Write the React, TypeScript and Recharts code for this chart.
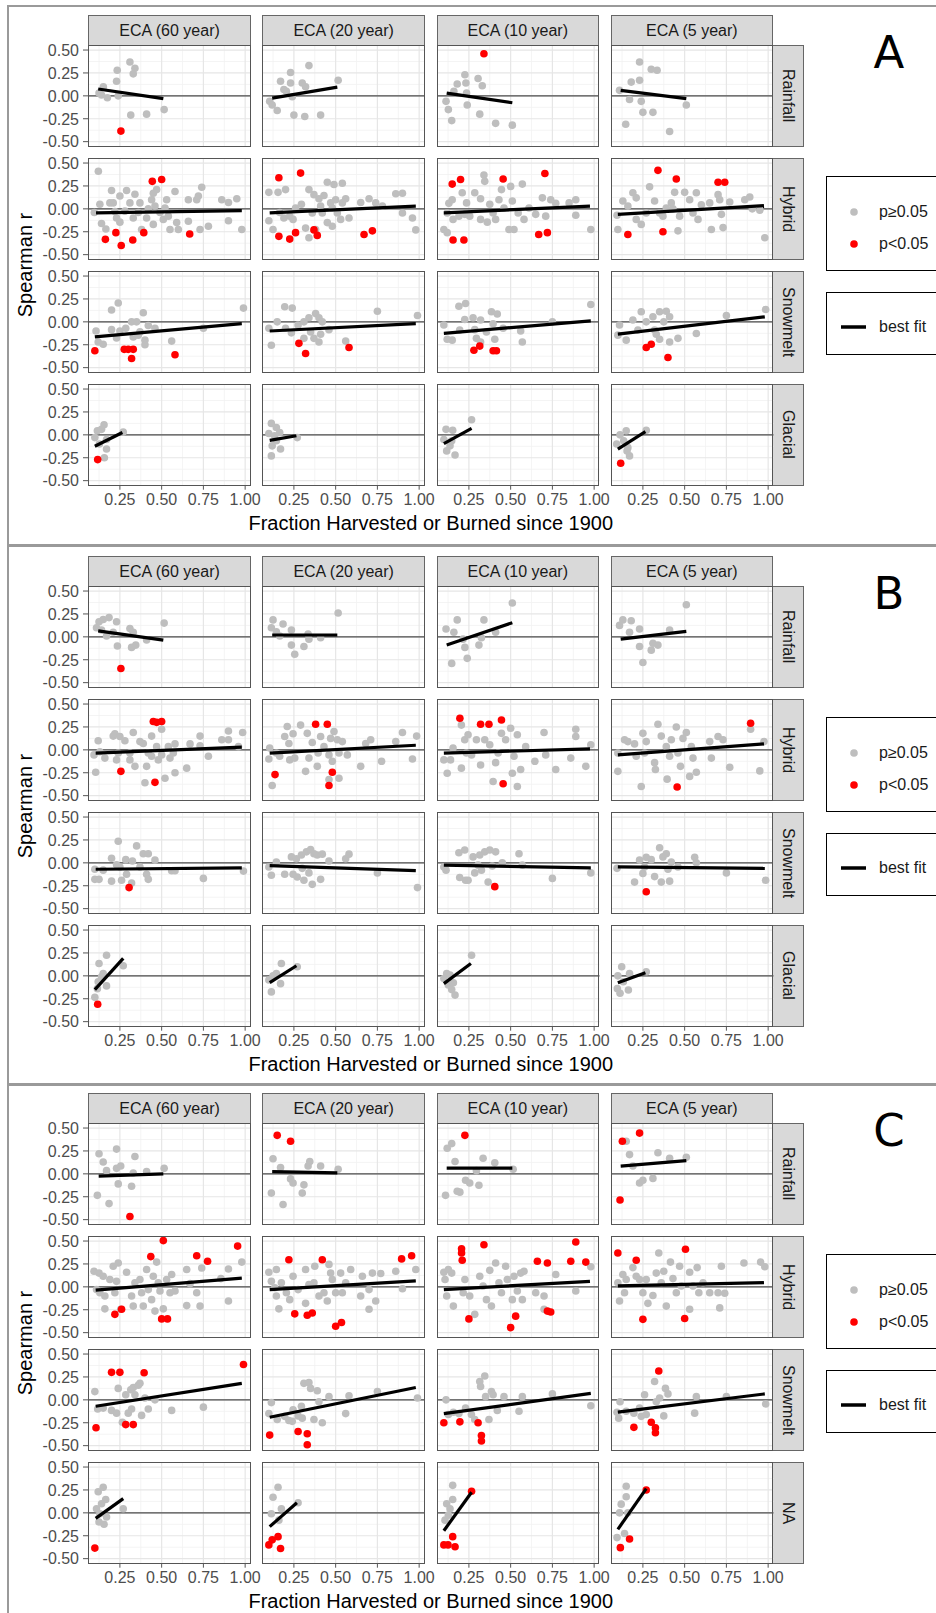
import React from "react";
import { ScatterChart, Scatter, XAxis, YAxis, CartesianGrid, ReferenceLine } from "recharts";

type Pt = [number, number];
type Fit = [number, number, number, number];

// labels
const durations = ["ECA (60 year)", "ECA (20 year)", "ECA (10 year)", "ECA (5 year)"];
const regimesAB = ["Rainfall", "Hybrid", "Snowmelt", "Glacial"];
const regimesC = ["Rainfall", "Hybrid", "Snowmelt", "NA"];
const panelLetters = ["A", "B", "C"];
const xTicks = [0.25, 0.5, 0.75, 1.0];
const yTicks = [-0.5, -0.25, 0, 0.25, 0.5];
const xMinor = [0.125, 0.375, 0.625, 0.875];
const yMinor = [-0.375, -0.125, 0.125, 0.375];
const legendPoints = ["p≥0.05", "p<0.05"];
const legendLine = "best fit";
const xTitle = "Fraction Harvested or Burned since 1900";
const yTitle = "Spearman r";

// ---- panel A: [row][col] ----
const greyA: Pt[][][] = [
  [
    [[0.125,0.03],[0.151,0.1],[0.175,-0.02],[0.14,0.01],[0.234,0.28],[0.23,0.16],[0.24,0],[0.31,0.37],[0.34,0.3],[0.33,0.24],[0.315,-0.21],[0.41,-0.2],[0.515,-0.15]],
    [[0.105,-0.06],[0.12,-0.1],[0.15,-0.16],[0.17,0.16],[0.19,0.07],[0.23,0.255],[0.23,0.14],[0.24,-0.01],[0.3,0.14],[0.32,0.1],[0.25,-0.21],[0.315,-0.225],[0.34,0.33],[0.41,-0.21],[0.515,0.17],[0.205,0.05]],
    [[0.113,-0.06],[0.127,-0.15],[0.147,-0.27],[0.18,0.13],[0.226,0.23],[0.24,-0.1],[0.232,0.14],[0.236,0.03],[0.305,0.19],[0.33,0.11],[0.315,-0.2],[0.41,-0.3],[0.51,-0.32],[0.16,0.05]],
    [[0.11,0.06],[0.147,-0.31],[0.17,-0.04],[0.18,0.15],[0.23,0.17],[0.23,0.37],[0.24,-0.06],[0.25,-0.18],[0.3,0.29],[0.335,0.28],[0.31,-0.18],[0.41,-0.39],[0.51,-0.1]],
  ],
  [
    [[0.121,0.41],[0.097,-0.04],[0.13,0.05],[0.14,-0.16],[0.166,-0.22],[0.2,0.2],[0.21,0.065],[0.22,-0.03],[0.23,-0.1],[0.25,-0.145],[0.29,0.2],[0.31,0.065],[0.34,0.16],[0.33,-0.1],[0.37,0.065],[0.38,-0.225],[0.41,-0.1],[0.42,0],[0.44,0.1],[0.45,0.17],[0.47,0.21],[0.46,0.03],[0.49,-0.04],[0.51,-0.115],[0.53,0.1],[0.54,-0.08],[0.55,-0.225],[0.58,0.19],[0.59,-0.15],[0.6,-0.225],[0.66,0.1],[0.66,-0.135],[0.71,0.1],[0.72,0.14],[0.74,0.235],[0.73,-0.225],[0.78,-0.19],[0.86,0.1],[0.9,0.07],[0.9,-0.13],[0.95,0.11],[0.98,-0.225],[0.45,-0.17],[0.28,-0.025],[0.25,0.14],[0.19,0.065],[0.52,0.01],[0.36,-0.04]],
    [[0.1,0.18],[0.1,-0.13],[0.125,-0.225],[0.155,0.18],[0.2,0.21],[0.165,-0.04],[0.19,-0.1],[0.225,-0.08],[0.245,-0.115],[0.26,0.01],[0.34,0.21],[0.37,0.155],[0.4,0.11],[0.43,0.145],[0.45,0.29],[0.49,0.265],[0.54,0.28],[0.47,0.065],[0.5,0.1],[0.54,0.065],[0.56,0.11],[0.51,-0.045],[0.53,-0.115],[0.58,-0.1],[0.48,-0.19],[0.45,-0.15],[0.42,-0.045],[0.36,-0.045],[0.32,-0.21],[0.34,-0.315],[0.38,-0.225],[0.65,0.07],[0.7,0.11],[0.74,0.065],[0.78,0.03],[0.86,0.165],[0.9,0.17],[0.9,-0.045],[0.96,-0.1],[0.98,-0.23],[0.48,0.01],[0.295,0.05],[0.41,0.03]],
    [[0.1,-0.225],[0.12,-0.045],[0.13,0.06],[0.15,0.1],[0.21,0.175],[0.155,-0.115],[0.19,-0.08],[0.225,-0.06],[0.12,-0.26],[0.34,0.37],[0.345,0.3],[0.285,0.175],[0.236,0.065],[0.32,0.11],[0.375,0.05],[0.43,0.1],[0.445,0.21],[0.5,0.245],[0.57,0.27],[0.51,0.085],[0.545,-0.045],[0.58,-0.115],[0.49,-0.225],[0.52,-0.225],[0.41,-0.115],[0.36,-0.145],[0.32,-0.115],[0.255,-0.08],[0.395,-0.045],[0.65,-0.06],[0.71,-0.08],[0.69,0.12],[0.74,0.1],[0.77,0.06],[0.85,0.065],[0.89,0.1],[0.89,-0.07],[0.98,-0.225],[0.46,0.01],[0.61,0.01]],
    [[0.1,-0.225],[0.095,-0.07],[0.13,0.085],[0.16,0.03],[0.19,0.175],[0.21,0.12],[0.21,-0.115],[0.24,-0.17],[0.29,0.24],[0.32,0.085],[0.35,-0.045],[0.39,0.01],[0.42,0.065],[0.44,0.18],[0.46,-0.24],[0.47,-0.08],[0.5,0.18],[0.53,0.1],[0.55,-0.045],[0.57,0.175],[0.58,-0.115],[0.6,0.045],[0.65,0.065],[0.66,-0.225],[0.7,0.155],[0.71,0.1],[0.72,-0.06],[0.73,-0.205],[0.77,0.075],[0.86,0.1],[0.89,0.13],[0.905,0],[0.95,-0.015],[0.98,-0.315],[0.43,0],[0.37,-0.08],[0.27,-0.045]],
  ],
  [
    [[0.107,-0.1],[0.12,-0.22],[0.15,-0.245],[0.2,0.13],[0.24,0.205],[0.2,-0.085],[0.23,-0.175],[0.25,-0.1],[0.285,-0.07],[0.32,0],[0.35,0],[0.33,-0.165],[0.37,-0.11],[0.39,0.1],[0.4,-0.2],[0.4,-0.25],[0.42,-0.04],[0.46,-0.07],[0.56,-0.21],[0.75,-0.07],[0.99,0.15],[0.36,-0.145]],
    [[0.1,-0.07],[0.115,-0.255],[0.15,0],[0.195,0.165],[0.24,0.15],[0.2,-0.07],[0.235,-0.12],[0.275,-0.035],[0.31,0],[0.34,0.045],[0.38,0.09],[0.4,0.045],[0.42,0],[0.35,-0.11],[0.37,-0.18],[0.4,-0.22],[0.41,-0.135],[0.46,-0.085],[0.56,-0.21],[0.75,0.115],[0.99,0.07],[0.31,-0.18]],
    [[0.1,-0.035],[0.12,-0.19],[0.15,-0.2],[0.19,0.17],[0.23,0.2],[0.225,0.025],[0.195,-0.09],[0.275,0.045],[0.32,0.02],[0.285,-0.085],[0.295,-0.18],[0.32,-0.22],[0.355,-0.11],[0.385,0.11],[0.42,0.085],[0.395,-0.02],[0.405,-0.19],[0.455,-0.07],[0.56,-0.1],[0.57,-0.22],[0.75,0],[0.98,0.19]],
    [[0.1,-0.145],[0.11,-0.035],[0.15,-0.2],[0.19,0.02],[0.24,0.11],[0.22,-0.09],[0.27,0],[0.31,0.055],[0.35,0.11],[0.39,0.115],[0.41,0.055],[0.375,0],[0.33,-0.135],[0.35,-0.19],[0.41,-0.22],[0.46,-0.18],[0.57,-0.127],[0.75,0.07],[0.985,0.135],[0.32,-0.09]],
  ],
  [
    [[0.1,-0.03],[0.115,0.045],[0.155,0.11],[0.14,0.06],[0.17,-0.05],[0.17,-0.155],[0.157,-0.25],[0.127,-0.1],[0.27,0.03]],
    [[0.1,0.015],[0.115,0.125],[0.145,0.08],[0.165,0.025],[0.12,-0.12],[0.115,-0.23],[0.17,-0.155],[0.145,-0.065],[0.27,-0.03],[0.135,-0.01]],
    [[0.1,-0.05],[0.113,0.06],[0.153,0.05],[0.117,-0.175],[0.167,-0.22],[0.137,-0.12],[0.266,0.165],[0.147,-0.065]],
    [[0.093,-0.1],[0.113,0],[0.15,0.045],[0.135,-0.065],[0.155,-0.175],[0.17,-0.23],[0.16,-0.14],[0.27,0.05]],
  ],
];
const redA: Pt[][][] = [
  [[[0.256,-0.385]], [], [[0.34,0.46]], []],
  [
    [[0.163,-0.333],[0.226,-0.26],[0.258,-0.4],[0.327,-0.34],[0.393,-0.26],[0.444,0.3],[0.5,0.32],[0.668,-0.275]],
    [[0.16,0.34],[0.29,0.39],[0.16,-0.3],[0.225,-0.33],[0.26,-0.26],[0.37,-0.23],[0.39,-0.29],[0.67,-0.28],[0.72,-0.24]],
    [[0.15,0.27],[0.2,0.32],[0.155,-0.34],[0.22,-0.34],[0.455,0.325],[0.705,0.385],[0.668,-0.28],[0.72,-0.26]],
    [[0.34,0.42],[0.45,0.325],[0.7,0.29],[0.74,0.29],[0.16,-0.28],[0.37,-0.25]],
  ],
  [
    [[0.1,-0.315],[0.276,-0.3],[0.3,-0.3],[0.33,-0.3],[0.32,-0.4],[0.58,-0.36]],
    [[0.28,-0.235],[0.32,-0.345],[0.58,-0.28]],
    [[0.28,-0.31],[0.315,-0.265],[0.395,-0.315],[0.415,-0.315]],
    [[0.27,-0.28],[0.3,-0.245],[0.4,-0.39]],
  ],
  [[[0.117,-0.27]], [], [], [[0.117,-0.31]]],
];
const fitA: Fit[][] = [
  [[0.12,0.075,0.51,-0.03],[0.12,-0.025,0.51,0.095],[0.117,0.03,0.51,-0.075],[0.117,0.06,0.51,-0.03]],
  [[0.107,-0.045,0.98,-0.02],[0.105,-0.045,0.98,0.03],[0.1,-0.045,0.975,0.03],[0.1,-0.06,0.975,0.035]],
  [[0.1,-0.165,0.98,-0.02],[0.105,-0.1,0.98,-0.02],[0.1,-0.125,0.98,0.01],[0.1,-0.135,0.98,0.055]],
  [[0.1,-0.125,0.265,0.025],[0.105,-0.06,0.265,-0.01],[0.1,-0.095,0.266,0.07],[0.1,-0.155,0.265,0.035]],
];

// ---- panel B ----
const greyB: Pt[][][] = [
  [
    [[0.11,0.1],[0.125,0.165],[0.15,0.19],[0.185,0.21],[0.14,0.075],[0.17,0.01],[0.23,0.165],[0.235,-0.1],[0.31,0.09],[0.33,0.05],[0.32,-0.115],[0.345,-0.09],[0.41,-0.035],[0.515,0.15],[0.21,0.05]],
    [[0.125,0.185],[0.115,0.1],[0.145,0.055],[0.185,0.14],[0.235,0.075],[0.235,-0.09],[0.255,-0.19],[0.31,-0.105],[0.335,0.03],[0.34,-0.025],[0.41,-0.01],[0.515,0.26],[0.165,0.01]],
    [[0.113,0.085],[0.18,0.185],[0.147,-0.29],[0.16,0.05],[0.215,-0.025],[0.24,-0.235],[0.51,0.37],[0.34,0.185],[0.41,0.05],[0.325,-0.01],[0.31,-0.09],[0.226,-0.115]],
    [[0.11,0.125],[0.13,0.185],[0.18,0.175],[0.17,0.05],[0.23,0.085],[0.23,-0.105],[0.25,-0.28],[0.31,-0.07],[0.3,-0.145],[0.34,-0.09],[0.41,0.075],[0.51,0.35]],
  ],
  [
    [[0.105,-0.245],[0.095,-0.055],[0.12,0.1],[0.13,-0.02],[0.16,-0.09],[0.21,0.15],[0.22,0.175],[0.25,0.145],[0.23,-0.11],[0.24,-0.035],[0.28,0.1],[0.33,0.19],[0.31,-0.11],[0.34,-0.18],[0.37,0.09],[0.39,0.07],[0.4,-0.36],[0.42,-0.035],[0.44,0.15],[0.44,-0.07],[0.47,0.035],[0.48,-0.11],[0.5,0.225],[0.5,-0.055],[0.52,-0.31],[0.54,0.035],[0.55,-0.09],[0.57,-0.035],[0.58,-0.25],[0.58,0.065],[0.65,-0.2],[0.67,0.065],[0.73,0.15],[0.73,0.045],[0.78,-0.07],[0.86,0.11],[0.9,0.205],[0.9,0.11],[0.96,0.035],[0.985,0.19],[0.41,-0.18],[0.31,-0.035]],
    [[0.12,-0.39],[0.1,-0.1],[0.105,0.02],[0.145,-0.035],[0.165,-0.07],[0.195,0.145],[0.21,0.255],[0.22,0.07],[0.245,0.175],[0.225,-0.11],[0.255,-0.09],[0.29,0.27],[0.32,-0.235],[0.34,-0.09],[0.36,0.08],[0.33,0.18],[0.39,-0.18],[0.395,-0.035],[0.41,0.145],[0.43,0.035],[0.46,-0.055],[0.47,0.125],[0.49,0.2],[0.51,0.11],[0.52,-0.035],[0.54,0.09],[0.52,-0.31],[0.46,-0.325],[0.57,-0.055],[0.65,-0.18],[0.68,0.07],[0.71,0.11],[0.775,-0.125],[0.86,0.09],[0.9,0.19],[0.96,-0.1],[0.985,0.15],[0.48,-0.125]],
    [[0.1,-0.11],[0.12,-0.255],[0.14,-0.11],[0.155,0.02],[0.205,0.27],[0.205,-0.2],[0.235,-0.035],[0.225,0.11],[0.245,0.165],[0.266,-0.055],[0.295,0.11],[0.345,0.11],[0.375,0.055],[0.32,-0.165],[0.395,-0.345],[0.425,-0.035],[0.445,0.18],[0.47,0.11],[0.5,0.235],[0.52,-0.07],[0.51,-0.255],[0.56,-0.215],[0.54,0.165],[0.59,0.035],[0.645,-0.125],[0.7,0.19],[0.71,-0.055],[0.77,-0.215],[0.86,-0.09],[0.89,0.225],[0.89,0.145],[0.95,-0.18],[0.98,0.055],[0.54,-0.4],[0.41,-0.14]],
    [[0.1,-0.235],[0.1,-0.035],[0.14,0.11],[0.16,0.09],[0.2,0.065],[0.21,-0.07],[0.25,0.18],[0.24,-0.4],[0.26,-0.035],[0.32,-0.14],[0.325,-0.215],[0.34,0.28],[0.36,0.15],[0.39,0.035],[0.395,-0.32],[0.42,0.11],[0.45,0.25],[0.46,-0.035],[0.475,-0.18],[0.49,0.125],[0.51,0.19],[0.54,0.035],[0.55,-0.09],[0.57,-0.245],[0.53,-0.29],[0.65,0.09],[0.66,-0.09],[0.7,0.145],[0.73,0.11],[0.77,-0.19],[0.895,0.225],[0.95,-0.23],[0.975,0.09],[0.27,0.09],[0.41,-0.07]],
  ],
  [
    [[0.1,-0.07],[0.1,-0.18],[0.125,-0.18],[0.15,-0.08],[0.2,0.05],[0.2,-0.2],[0.24,0.235],[0.23,-0.02],[0.26,-0.19],[0.285,0.035],[0.29,-0.125],[0.32,-0.22],[0.325,0.02],[0.35,0.185],[0.37,-0.045],[0.39,0.1],[0.42,0.1],[0.41,-0.125],[0.42,-0.18],[0.46,0.03],[0.56,-0.087],[0.58,-0.087],[0.75,-0.17],[0.99,-0.09],[0.25,-0.045]],
    [[0.1,-0.045],[0.115,-0.135],[0.145,0.01],[0.195,-0.125],[0.235,0.065],[0.265,0.045],[0.245,-0.125],[0.27,-0.155],[0.295,0.085],[0.31,-0.19],[0.325,0.12],[0.35,0.145],[0.37,0.1],[0.39,0.085],[0.42,0.095],[0.36,-0.235],[0.34,-0.11],[0.41,-0.18],[0.46,0.02],[0.56,0.045],[0.58,0.095],[0.75,-0.11],[0.99,-0.27],[0.3,-0.06]],
    [[0.1,-0.045],[0.113,-0.08],[0.19,0.11],[0.225,0.14],[0.195,-0.16],[0.23,-0.19],[0.245,-0.19],[0.275,0.065],[0.285,-0.11],[0.315,0.085],[0.325,-0.08],[0.345,0.12],[0.375,0.14],[0.41,0.12],[0.39,-0.035],[0.365,-0.21],[0.45,0],[0.55,0.1],[0.57,-0.025],[0.75,-0.17],[0.98,-0.11],[0.305,-0.025]],
    [[0.095,-0.06],[0.2,-0.21],[0.23,0.03],[0.25,-0.115],[0.27,0.06],[0.3,0.035],[0.32,-0.15],[0.35,0.165],[0.36,-0.21],[0.37,0.065],[0.39,0.1],[0.4,-0.07],[0.41,-0.2],[0.42,0.01],[0.46,-0.045],[0.56,0.06],[0.57,0],[0.75,-0.11],[0.985,-0.19],[0.26,-0.045]],
  ],
  [
    [[0.1,-0.235],[0.115,-0.14],[0.125,0.135],[0.15,0.025],[0.17,0.225],[0.17,-0.11],[0.12,-0.065],[0.27,0.11],[0.14,-0.01]],
    [[0.1,-0.045],[0.115,-0.175],[0.145,0.025],[0.175,0.135],[0.17,-0.085],[0.27,0.1],[0.125,0]],
    [[0.1,-0.03],[0.117,0.025],[0.137,0.01],[0.127,-0.1],[0.147,-0.15],[0.167,-0.21],[0.266,0.225],[0.157,-0.075]],
    [[0.123,0.1],[0.097,-0.14],[0.113,-0.19],[0.133,-0.065],[0.163,-0.155],[0.17,0.025],[0.27,0.045],[0.1,0]],
  ],
];
const redB: Pt[][][] = [
  [[[0.256,-0.345]], [], [], []],
  [
    [[0.256,-0.235],[0.45,0.31],[0.47,0.3],[0.5,0.31],[0.46,-0.355]],
    [[0.137,-0.27],[0.38,0.28],[0.45,0.28],[0.48,-0.245],[0.46,-0.39]],
    [[0.196,0.345],[0.32,0.28],[0.37,0.28],[0.445,0.325],[0.455,-0.37]],
    [[0.895,0.29],[0.455,-0.405]],
  ],
  [[[0.305,-0.27]], [], [[0.405,-0.26]], [[0.27,-0.315]]],
  [[[0.117,-0.31]], [], [], []],
];
const fitB: Fit[][] = [
  [[0.12,0.065,0.51,-0.035],[0.12,0.02,0.51,0.02],[0.117,-0.09,0.51,0.155],[0.117,-0.025,0.51,0.06]],
  [[0.105,-0.035,0.98,0.03],[0.105,-0.035,0.98,0.05],[0.1,-0.035,0.975,0.01],[0.1,-0.055,0.975,0.065]],
  [[0.105,-0.07,0.98,-0.055],[0.105,-0.03,0.98,-0.085],[0.1,-0.025,0.98,-0.055],[0.1,-0.045,0.98,-0.06]],
  [[0.1,-0.15,0.27,0.19],[0.105,-0.075,0.265,0.11],[0.1,-0.085,0.262,0.135],[0.1,-0.075,0.265,0.035]],
];

// ---- panel C ----
const greyC: Pt[][][] = [
  [
    [[0.125,0.22],[0.15,0.13],[0.115,-0.235],[0.17,0.035],[0.185,-0.325],[0.23,0.27],[0.23,0.06],[0.255,0.085],[0.24,-0.11],[0.32,-0.135],[0.33,0.01],[0.34,0.19],[0.41,0.025],[0.515,0.06]],
    [[0.125,0.165],[0.115,-0.21],[0.17,0.07],[0.185,-0.335],[0.23,-0.055],[0.245,-0.1],[0.31,-0.12],[0.3,-0.21],[0.335,0.085],[0.345,0.135],[0.41,0.085],[0.515,0.05]],
    [[0.12,0.28],[0.147,0.33],[0.167,0.135],[0.11,-0.235],[0.18,-0.19],[0.23,-0.07],[0.335,0.17],[0.405,0.12],[0.515,0.05],[0.255,-0.1],[0.31,-0.125],[0.295,0.035],[0.196,-0.2]],
    [[0.15,0.355],[0.17,0.21],[0.19,0.085],[0.23,-0.1],[0.25,-0.07],[0.31,-0.05],[0.34,0.23],[0.41,0.17],[0.51,0.18]],
  ],
  [
    [[0.095,0.17],[0.125,0.15],[0.15,0.115],[0.11,-0.03],[0.13,-0.065],[0.16,-0.1],[0.16,-0.24],[0.21,0.225],[0.24,0.26],[0.19,0.08],[0.23,0.06],[0.22,-0.065],[0.255,-0.245],[0.29,0.16],[0.32,-0.1],[0.33,-0.21],[0.34,0.045],[0.37,0.08],[0.39,-0.21],[0.41,0.19],[0.42,-0.03],[0.45,0.115],[0.46,-0.265],[0.47,0.27],[0.48,0.045],[0.49,-0.045],[0.51,-0.24],[0.53,0.08],[0.55,-0.065],[0.56,0.135],[0.58,-0.045],[0.65,-0.205],[0.65,0.19],[0.67,0.035],[0.71,-0.065],[0.73,-0.21],[0.74,0.205],[0.855,0.09],[0.9,0.195],[0.9,-0.155],[0.98,0.27],[0.44,-0.14],[0.38,-0.065]],
    [[0.1,0.16],[0.145,0.19],[0.115,0.06],[0.135,-0.01],[0.145,-0.1],[0.16,-0.24],[0.175,0.045],[0.205,-0.065],[0.225,-0.14],[0.245,0.115],[0.275,-0.03],[0.32,0.19],[0.32,-0.18],[0.34,0.025],[0.37,0.045],[0.375,0.225],[0.4,-0.1],[0.45,-0.155],[0.46,0.245],[0.47,0.15],[0.48,0.08],[0.5,-0.065],[0.53,0.15],[0.54,-0.065],[0.56,0.045],[0.59,0.19],[0.65,-0.1],[0.66,0.115],[0.7,-0.03],[0.72,0.15],[0.74,-0.155],[0.77,0.145],[0.7,-0.245],[0.86,0.17],[0.9,-0.02],[0.98,0.19],[0.43,-0.065]],
    [[0.1,0.16],[0.127,0.19],[0.147,0.15],[0.117,-0.1],[0.157,-0.21],[0.226,0.08],[0.216,-0.065],[0.107,0.08],[0.255,-0.1],[0.285,-0.3],[0.315,0.115],[0.335,0.01],[0.355,-0.14],[0.375,0.18],[0.385,-0.21],[0.41,0.26],[0.43,0.045],[0.445,-0.065],[0.47,0.225],[0.48,0.08],[0.51,-0.14],[0.52,0.115],[0.54,-0.045],[0.56,0.15],[0.58,0.17],[0.57,-0.14],[0.65,-0.065],[0.7,-0.1],[0.7,-0.245],[0.77,0.135],[0.89,-0.045],[0.98,0.22]],
    [[0.1,0.045],[0.11,-0.155],[0.13,0.135],[0.15,0.08],[0.14,-0.065],[0.19,0.21],[0.21,0.115],[0.23,0.08],[0.25,-0.065],[0.28,-0.18],[0.31,-0.095],[0.33,0.15],[0.345,0.37],[0.36,0.045],[0.375,0.17],[0.39,-0.21],[0.415,0.27],[0.43,0.09],[0.45,-0.065],[0.47,0.225],[0.48,0.01],[0.53,0.16],[0.53,-0.245],[0.55,0.01],[0.575,0.21],[0.585,-0.065],[0.61,0.045],[0.65,-0.065],[0.7,-0.065],[0.71,-0.23],[0.72,0.225],[0.74,-0.07],[0.855,0.26],[0.955,0.27],[0.98,0.22],[0.27,0.08]],
  ],
  [
    [[0.1,0.09],[0.117,-0.1],[0.15,-0.09],[0.2,-0.115],[0.23,-0.145],[0.24,0.125],[0.265,-0.245],[0.285,0.055],[0.3,-0.145],[0.315,0.11],[0.32,-0.1],[0.33,0.135],[0.36,0.16],[0.37,0.18],[0.38,-0.17],[0.4,0.02],[0.42,-0.1],[0.46,0],[0.56,-0.115],[0.75,-0.08],[0.34,0.055]],
    [[0.1,-0.15],[0.115,-0.03],[0.15,-0.215],[0.195,-0.18],[0.22,-0.225],[0.24,-0.235],[0.245,-0.11],[0.275,-0.175],[0.3,-0.2],[0.31,0.18],[0.34,0.19],[0.35,0.125],[0.37,-0.215],[0.39,0.1],[0.4,-0.02],[0.42,-0.25],[0.46,0.035],[0.56,-0.15],[0.58,0.045],[0.75,0.09],[0.99,0.02],[0.295,-0.07]],
    [[0.113,0],[0.127,-0.16],[0.157,-0.135],[0.19,-0.15],[0.23,-0.09],[0.265,-0.16],[0.285,-0.215],[0.315,0.2],[0.32,0.145],[0.345,0.26],[0.35,0.035],[0.37,-0.215],[0.385,0.09],[0.395,0.055],[0.42,-0.115],[0.46,0.035],[0.55,-0.125],[0.57,0.035],[0.75,0.065],[0.98,-0.065]],
    [[0.095,-0.135],[0.105,-0.2],[0.113,-0.02],[0.15,-0.125],[0.196,-0.145],[0.23,-0.09],[0.24,-0.18],[0.26,0.055],[0.27,-0.16],[0.32,0.2],[0.33,-0.02],[0.35,0.02],[0.375,-0.175],[0.385,0.125],[0.4,0.065],[0.56,-0.145],[0.57,0.035],[0.75,0.035],[0.985,-0.045]],
  ],
  [
    [[0.12,0.23],[0.15,0.28],[0.165,0.145],[0.11,0.045],[0.125,-0.1],[0.155,-0.125],[0.17,-0.045],[0.14,0.1],[0.27,0.045],[0.13,-0.01]],
    [[0.125,0.17],[0.155,0.28],[0.115,-0.01],[0.175,0.045],[0.16,-0.08],[0.275,0.11]],
    [[0.117,0.1],[0.153,0.3],[0.153,0.145],[0.137,0.045],[0.107,-0.08],[0.127,-0.025]],
    [[0.15,0.29],[0.15,0.175],[0.12,0.095],[0.11,0],[0.095,-0.27],[0.14,-0.225],[0.16,0]],
  ],
];
const redC: Pt[][][] = [
  [[[0.31,-0.465]], [[0.15,0.42],[0.23,0.355]], [[0.226,0.42]], [[0.127,0.355],[0.23,0.445],[0.113,-0.285]]],
  [
    [[0.22,-0.3],[0.26,-0.245],[0.435,0.33],[0.51,0.505],[0.5,-0.35],[0.535,-0.35],[0.71,0.34],[0.775,0.28],[0.955,0.445]],
    [[0.22,0.295],[0.255,-0.295],[0.33,-0.31],[0.36,-0.285],[0.42,0.295],[0.5,-0.43],[0.535,-0.39],[0.895,0.305],[0.955,0.34]],
    [[0.206,0.415],[0.206,0.37],[0.21,0.29],[0.25,-0.35],[0.34,0.46],[0.53,-0.32],[0.5,-0.445],[0.66,0.28],[0.72,0.26],[0.86,0.28],[0.89,0.49],[0.95,0.27],[0.72,-0.265],[0.74,-0.275]],
    [[0.1,0.37],[0.21,0.29],[0.505,0.41],[0.25,-0.355],[0.5,-0.345]],
  ],
  [
    [[0.107,-0.305],[0.2,0.3],[0.25,0.3],[0.395,0.295],[0.99,0.385],[0.285,-0.27],[0.33,-0.27]],
    [[0.105,-0.385],[0.275,-0.345],[0.33,-0.37],[0.33,-0.49]],
    [[0.1,-0.25],[0.196,-0.24],[0.305,-0.25],[0.325,-0.39],[0.325,-0.45]],
    [[0.196,-0.3],[0.3,-0.245],[0.325,-0.305],[0.325,-0.36],[0.345,0.315]],
  ],
  [
    [[0.1,-0.385]],
    [[0.1,-0.35],[0.12,-0.295],[0.155,-0.26],[0.17,-0.39]],
    [[0.1,-0.35],[0.125,-0.35],[0.153,-0.26],[0.167,-0.37],[0.266,0.235]],
    [[0.27,0.25],[0.115,-0.38],[0.17,-0.285]],
  ],
];
const fitC: Fit[][] = [
  [[0.123,-0.025,0.51,0],[0.12,0.025,0.51,0.01],[0.117,0.062,0.51,0.062],[0.117,0.085,0.51,0.145]],
  [[0.105,-0.035,0.98,0.095],[0.105,-0.03,0.98,0.065],[0.1,-0.03,0.975,0.06],[0.1,0.01,0.975,0.045]],
  [[0.105,-0.07,0.98,0.18],[0.105,-0.19,0.98,0.135],[0.1,-0.15,0.98,0.07],[0.1,-0.135,0.98,0.065]],
  [[0.105,-0.06,0.27,0.155],[0.105,-0.15,0.268,0.11],[0.1,-0.195,0.266,0.225],[0.1,-0.18,0.27,0.265]],
];

// layout
const FONT = "'Liberation Sans', Arial, sans-serif";
const X_DOMAIN: [number, number] = [0.059, 1.032];
const Y_DOMAIN: [number, number] = [-0.555, 0.555];
const PANEL_TOP = [0, 541, 1078];
const PLOT_LEFT = 88.3;
const COL_STEP = 174.1;
const PLOT_W = 162.5;
const PLOT_TOP = 45;
const ROW_STEP = 113;
const PLOT_H = 101.7;
const Y_AXIS_W = 84;
const X_AXIS_H = 34;
const RIGHT_PAD = 20;
const V_PAD = 10;
const GREY = "#bebebe";
const RED = "#ff0000";

const fmt = (v: number) => v.toFixed(2);
const toXY = (pts: Pt[]) => pts.map(([x, y]) => ({ x, y }));
const dot = (fill: string) => (p: any) => <circle cx={p.cx} cy={p.cy} r={3.8} fill={fill} />;

const XTick = (p: any) => (
  <text x={p.x} y={p.y} dy="0.75em" textAnchor="middle" fill="#4d4d4d" fontSize={16} fontFamily={FONT}>
    {fmt(p.payload.value)}
  </text>
);
const YTick = (p: any) => (
  <text x={p.x} y={p.y} dy="0.36em" textAnchor="end" fill="#4d4d4d" fontSize={16} fontFamily={FONT}>
    {fmt(p.payload.value)}
  </text>
);

function Facet(props: { grey: Pt[]; red: Pt[]; fit: Fit; showX: boolean; showY: boolean }) {
  const { grey, red, fit, showX, showY } = props;
  const rightPad = showX ? RIGHT_PAD : 0;
  const w = PLOT_W + (showY ? Y_AXIS_W : 0) + rightPad;
  const h = PLOT_H + V_PAD + (showX ? X_AXIS_H : V_PAD);
  const fitData = [{ x: fit[0], y: fit[1] }, { x: fit[2], y: fit[3] }];
  return (
    <ScatterChart width={w} height={h} margin={{ top: V_PAD, right: rightPad, bottom: showX ? 0 : V_PAD, left: 0 }}>
      <CartesianGrid verticalValues={xMinor} horizontalValues={yMinor} stroke="#f1f1f1" strokeWidth={0.8} />
      <CartesianGrid verticalValues={xTicks} horizontalValues={yTicks} stroke="#e6e6e6" strokeWidth={1.2} />
      <XAxis
        type="number"
        dataKey="x"
        domain={X_DOMAIN}
        allowDataOverflow
        ticks={xTicks}
        interval={0}
        hide={!showX}
        height={X_AXIS_H}
        axisLine={false}
        tickLine={{ stroke: "#555" }}
        tickSize={4}
        tickMargin={3}
        tick={XTick}
      />
      <YAxis
        type="number"
        dataKey="y"
        domain={Y_DOMAIN}
        allowDataOverflow
        ticks={yTicks}
        interval={0}
        hide={!showY}
        width={Y_AXIS_W}
        axisLine={false}
        tickLine={{ stroke: "#555" }}
        tickSize={5}
        tickMargin={4}
        tick={YTick}
      />
      <ReferenceLine y={0} stroke="#4d4d4d" strokeWidth={1.1} />
      <Scatter data={toXY(grey)} shape={dot(GREY)} isAnimationActive={false} />
      <Scatter data={toXY(red)} shape={dot(RED)} isAnimationActive={false} />
      <Scatter
        data={fitData}
        line={{ stroke: "#000", strokeWidth: 3.2 }}
        shape={() => <g />}
        isAnimationActive={false}
      />
    </ScatterChart>
  );
}

const stripBox: React.CSSProperties = {
  position: "absolute",
  boxSizing: "border-box",
  background: "#d9d9d9",
  border: "1px solid #666",
  display: "flex",
  alignItems: "center",
  justifyContent: "center",
  fontSize: 16,
  color: "#1a1a1a",
};

function Panel(props: { index: number; grey: Pt[][][]; red: Pt[][][]; fit: Fit[][]; regimes: string[] }) {
  const { index, grey, red, fit, regimes } = props;
  const o = PANEL_TOP[index];
  const items: React.ReactNode[] = [];

  durations.forEach((d, c) => {
    items.push(
      <div
        key={"s" + c}
        style={{ ...stripBox, left: PLOT_LEFT + c * COL_STEP, top: o + 15, width: PLOT_W, height: PLOT_TOP - 15 + 1 }}
      >
        {d}
      </div>
    );
  });

  regimes.forEach((rg, r) => {
    const top = o + PLOT_TOP + r * ROW_STEP;
    items.push(
      <div
        key={"r" + r}
        style={{ ...stripBox, left: PLOT_LEFT + 3 * COL_STEP + PLOT_W - 1, top, width: 32, height: PLOT_H }}
      >
        <span style={{ writingMode: "vertical-rl" }}>{rg}</span>
      </div>
    );
    durations.forEach((_, c) => {
      const left = PLOT_LEFT + c * COL_STEP;
      const showY = c === 0;
      const showX = r === 3;
      items.push(
        <div key={`f${r}-${c}`} style={{ position: "absolute", left: left - (showY ? Y_AXIS_W : 0), top: top - V_PAD }}>
          <Facet grey={grey[r][c]} red={red[r][c]} fit={fit[r][c]} showX={showX} showY={showY} />
        </div>
      );
      items.push(
        <div
          key={`b${r}-${c}`}
          style={{
            position: "absolute",
            left,
            top,
            width: PLOT_W,
            height: PLOT_H,
            boxSizing: "border-box",
            border: "1px solid #555",
            pointerEvents: "none",
          }}
        />
      );
    });
  });

  // axis titles
  items.push(
    <div
      key="yt"
      style={{
        position: "absolute",
        left: 25 - 80,
        top: o + 265 - 12,
        width: 160,
        height: 24,
        textAlign: "center",
        lineHeight: "24px",
        fontSize: 20,
        color: "#000",
        transform: "rotate(-90deg)",
      }}
    >
      {yTitle}
    </div>
  );
  items.push(
    <div
      key="xt"
      style={{
        position: "absolute",
        left: 430.8 - 250,
        top: o + 523 - 12,
        width: 500,
        height: 24,
        textAlign: "center",
        lineHeight: "24px",
        fontSize: 20,
        color: "#000",
      }}
    >
      {xTitle}
    </div>
  );

  // panel letter
  items.push(
    <div
      key="letter"
      style={{
        position: "absolute",
        left: 889 - 40,
        top: o + 53 - 30,
        width: 80,
        height: 60,
        lineHeight: "60px",
        textAlign: "center",
        fontSize: 45,
        fontFamily: "'DejaVu Sans', sans-serif",
        color: "#000",
      }}
    >
      {panelLetters[index]}
    </div>
  );

  // legends
  items.push(
    <div
      key="lg1"
      style={{
        position: "absolute",
        left: 826,
        top: o + 176,
        width: 140,
        height: 95,
        boxSizing: "border-box",
        border: "1.7px solid #000",
        background: "#fff",
      }}
    >
      {legendPoints.map((t, i) => (
        <div key={t} style={{ position: "absolute", left: 0, top: 23 + i * 32, height: 24, display: "flex", alignItems: "center" }}>
          <svg width={52} height={24} style={{ display: "block" }}>
            <circle cx={27} cy={12} r={3.8} fill={i === 0 ? GREY : RED} />
          </svg>
          <span style={{ fontSize: 16, color: "#1a1a1a" }}>{t}</span>
        </div>
      ))}
    </div>
  );
  items.push(
    <div
      key="lg2"
      style={{
        position: "absolute",
        left: 826,
        top: o + 292,
        width: 140,
        height: 63,
        boxSizing: "border-box",
        border: "1.7px solid #000",
        background: "#fff",
      }}
    >
      <div style={{ position: "absolute", left: 0, top: 22, height: 24, display: "flex", alignItems: "center" }}>
        <svg width={52} height={24} style={{ display: "block" }}>
          <line x1={14} x2={39} y1={12} y2={12} stroke="#000" strokeWidth={3.5} />
        </svg>
        <span style={{ fontSize: 16, color: "#1a1a1a" }}>{legendLine}</span>
      </div>
    </div>
  );

  return <>{items}</>;
}

export default function App() {
  return (
    <div
      style={{
        position: "absolute",
        left: 0,
        top: 0,
        width: 936,
        height: 1613,
        overflow: "hidden",
        background: "#fff",
        fontFamily: FONT,
      }}
    >
      <div style={{ position: "absolute", left: 6.5, top: 4.5, width: 940, height: 2, background: "#9a9a9a" }} />
      <div style={{ position: "absolute", left: 6.5, top: 543.5, width: 940, height: 3, background: "#9a9a9a" }} />
      <div style={{ position: "absolute", left: 6.5, top: 1082.5, width: 940, height: 3, background: "#9a9a9a" }} />
      <div style={{ position: "absolute", left: 6.5, top: 4.5, width: 2, height: 1620, background: "#9a9a9a" }} />
      <Panel index={0} grey={greyA} red={redA} fit={fitA} regimes={regimesAB} />
      <Panel index={1} grey={greyB} red={redB} fit={fitB} regimes={regimesAB} />
      <Panel index={2} grey={greyC} red={redC} fit={fitC} regimes={regimesC} />
    </div>
  );
}
